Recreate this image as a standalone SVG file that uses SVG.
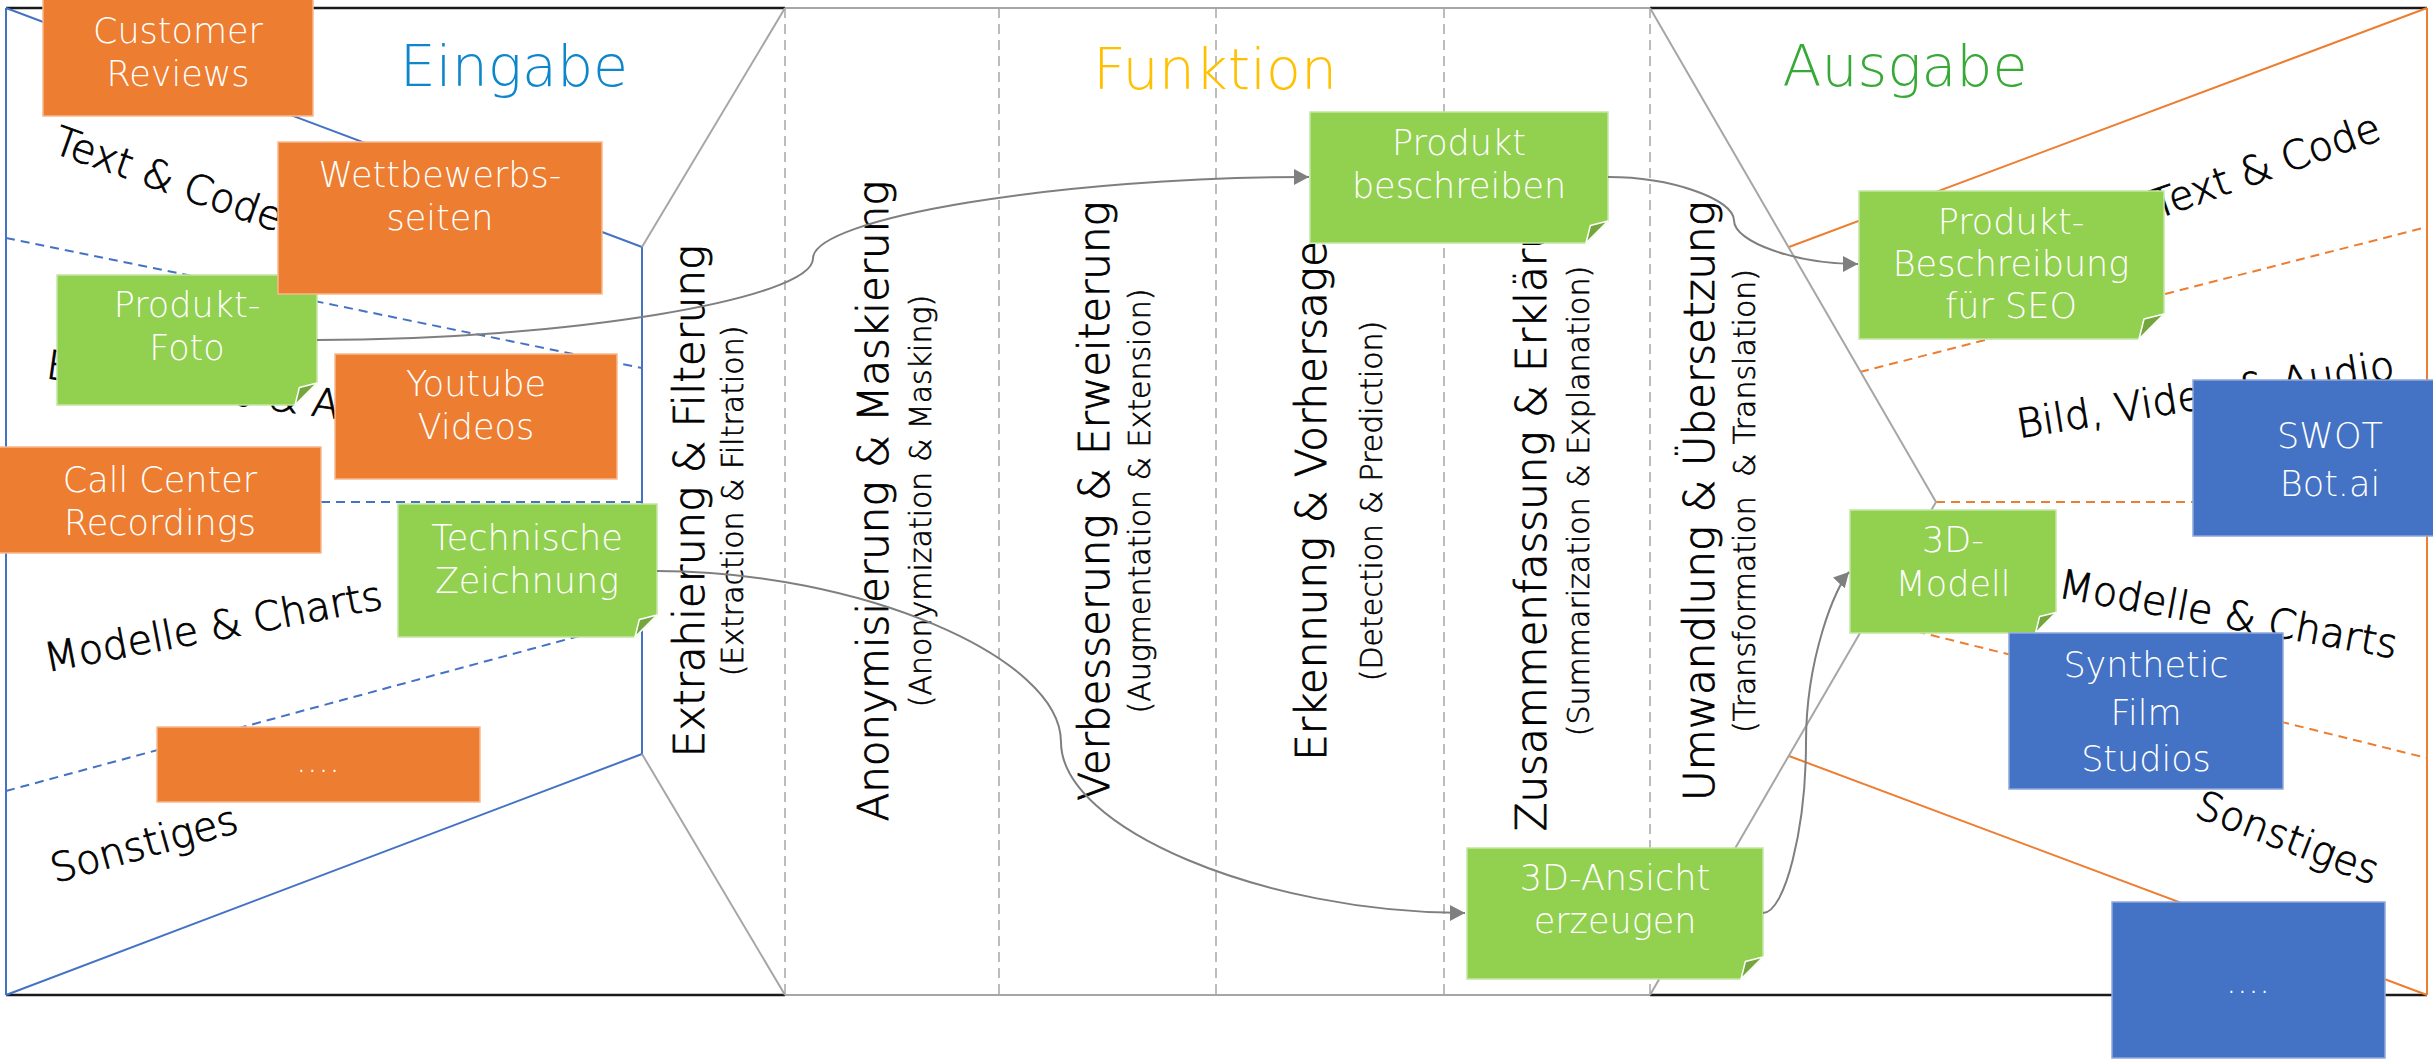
<svg xmlns="http://www.w3.org/2000/svg" width="2433" height="1062" viewBox="0 0 2433 1062">
  <defs>
    <style>
      text { font-family: "DejaVu Sans", "Liberation Sans", sans-serif; font-weight: 300; }
      .lbl { font-size: 40px; fill: #000; stroke: #000; stroke-width: 0.8; }
      .hdr { font-size: 57px; text-anchor: middle; }
      .col { font-size: 42px; fill: #000; stroke: #000; stroke-width: 0.8; text-anchor: middle; }
      .sub { font-size: 30px; fill: #000; stroke: #000; stroke-width: 0.6; text-anchor: middle; }
      .bt { font-size: 35px; fill: #fff; text-anchor: middle; }
      .org { fill: #ED7D31; stroke: #F6B98F; stroke-width: 1.5; }
      .blu { fill: #4472C4; stroke: #8EA9DB; stroke-width: 1.5; }
      .grn { fill: #92D050; stroke: #C4E6A2; stroke-width: 1.5; }
      .fold { fill: #75A63E; stroke: #fff; stroke-width: 1.5; stroke-linejoin: round; }
      .bline { stroke: #4472C4; stroke-width: 2; fill: none; }
      .bdash { stroke: #4472C4; stroke-width: 2; stroke-dasharray: 9 6; fill: none; }
      .oline { stroke: #ED7D31; stroke-width: 2; fill: none; }
      .odash { stroke: #ED7D31; stroke-width: 2; stroke-dasharray: 9 6; fill: none; }
      .gline { stroke: #A6A6A6; stroke-width: 2; fill: none; }
      .gdash { stroke: #A6A6A6; stroke-width: 1.5; stroke-dasharray: 10 6; fill: none; }
      .frame { stroke: #1A1A1A; stroke-width: 2.5; fill: none; }
      .conn { stroke: #7F7F7F; stroke-width: 2; fill: none; marker-end: url(#arrow); }
    </style>
    <marker id="arrow" markerUnits="userSpaceOnUse" markerWidth="18" markerHeight="18" refX="15" refY="8" orient="auto">
      <path d="M0,0 L15,8 L0,16 Z" fill="#7F7F7F"/>
    </marker>
  </defs>

  <rect width="2433" height="1062" fill="#fff"/>

  <!-- frame: top and bottom edges -->
  <g id="frame">
    <path class="frame" d="M6,8 H785 M1650,8 H2427 M6,995 H785 M1650,995 H2427"/>
    <path class="gline" d="M785,8 H1650 M785,995 H1650" stroke-width="2.5"/>
  </g>

  <!-- input funnel (Eingabe) -->
  <g id="input-area">
    <path class="bline" d="M6,8 V995 M6,8 L642,247 V754 L6,995"/>
    <path class="bdash" d="M6,238 L642,368 M6,502 H642 M6,791 L642,619"/>
  </g>

  <!-- output funnel (Ausgabe) -->
  <g id="output-area">
    <path class="oline" d="M2427,8 V995 M2427,8 L1789,247 M1789,756 L2427,995"/>
    <path class="odash" d="M1860,372 L2427,227 M1936,502 H2427 M1858,617 L2427,758"/>
  </g>

  <!-- function area borders and column separators -->
  <g id="function-area">
    <path class="gline" d="M785,8 L642,247 M642,754 L785,995 M1650,8 L1936,502 L1650,995"/>
    <path class="gdash" d="M785,8 V995 M999,8 V995 M1216,8 V995 M1444,8 V995 M1650,8 V995"/>
  </g>

  <!-- section headers -->
  <g id="headers">
    <text class="hdr" x="514" y="86" fill="#0E86CC">Eingabe</text>
    <text class="hdr" x="1215" y="89" fill="#FFC000">Funktion</text>
    <text class="hdr" x="1905" y="86" fill="#36A936">Ausgabe</text>
  </g>

  <!-- category labels, input side -->
  <g id="input-labels">
    <text class="lbl" transform="translate(51,152) rotate(19.5)">Text &amp; Code</text>
    <text class="lbl" transform="translate(45,378) rotate(8)">Bild, Video &amp; Audio</text>
    <text class="lbl" transform="translate(47,672) rotate(-10.7)">Modelle &amp; Charts</text>
    <text class="lbl" transform="translate(55,883) rotate(-15.5)" font-size="42">Sonstiges</text>
  </g>

  <!-- category labels, output side -->
  <g id="output-labels">
    <text class="lbl" transform="translate(2157,219) rotate(-19.5)">Text &amp; Code</text>
    <text class="lbl" transform="translate(2019,438) rotate(-9)">Bild, Video &amp; Audio</text>
    <text class="lbl" transform="translate(2057,597) rotate(10.3)">Modelle &amp; Charts</text>
    <text class="lbl" transform="translate(2193,816) rotate(21)" font-size="42">Sonstiges</text>
  </g>

  <!-- function columns -->
  <g id="col-extraction">
    <text class="col" transform="translate(704,501) rotate(-90)">Extrahierung &amp; Filterung</text>
    <text class="sub" transform="translate(743,501) rotate(-90)">(Extraction &amp; Filtration)</text>
  </g>
  <g id="col-anonymization">
    <text class="col" transform="translate(888,501) rotate(-90)">Anonymisierung &amp; Maskierung</text>
    <text class="sub" transform="translate(931,501) rotate(-90)">(Anonymization &amp; Masking)</text>
  </g>
  <g id="col-augmentation">
    <text class="col" transform="translate(1109,501) rotate(-90)">Verbesserung &amp; Erweiterung</text>
    <text class="sub" transform="translate(1150,501) rotate(-90)">(Augmentation &amp; Extension)</text>
  </g>
  <g id="col-detection">
    <text class="col" transform="translate(1326,501) rotate(-90)">Erkennung &amp; Vorhersage</text>
    <text class="sub" transform="translate(1382,501) rotate(-90)">(Detection &amp; Prediction)</text>
  </g>
  <g id="col-summarization">
    <text class="col" transform="translate(1546,501) rotate(-90)">Zusammenfassung &amp; Erklärung</text>
    <text class="sub" transform="translate(1589,501) rotate(-90)">(Summarization &amp; Explanation)</text>
  </g>
  <g id="col-transformation">
    <text class="col" transform="translate(1714,501) rotate(-90)">Umwandlung &amp; Übersetzung</text>
    <text class="sub" transform="translate(1755,501) rotate(-90)" style="white-space:pre">(Transformation  &amp; Translation)</text>
  </g>

  <!-- input sources -->
  <g id="customer-reviews">
    <rect class="org" x="43" y="-2" width="270" height="118"/>
    <text class="bt" x="178" y="43">Customer</text>
    <text class="bt" x="178" y="86">Reviews</text>
  </g>
  <g id="produkt-foto">
    <path class="grn" d="M57,275 H317 V383 L295,405 H57 Z"/>
    <path class="fold" d="M295,405 L299.4,387.4 L317,383 Z"/>
    <text class="bt" x="187" y="317">Produkt-</text>
    <text class="bt" x="187" y="360">Foto</text>
  </g>
  <g id="wettbewerbsseiten">
    <rect class="org" x="278" y="142" width="324" height="152"/>
    <text class="bt" x="440" y="187">Wettbewerbs-</text>
    <text class="bt" x="440" y="230">seiten</text>
  </g>
  <g id="youtube-videos">
    <rect class="org" x="335" y="354" width="282" height="125"/>
    <text class="bt" x="476" y="396">Youtube</text>
    <text class="bt" x="476" y="439">Videos</text>
  </g>
  <g id="call-center">
    <rect class="org" x="-2" y="447" width="323" height="106"/>
    <text class="bt" x="160" y="492">Call Center</text>
    <text class="bt" x="160" y="535">Recordings</text>
  </g>
  <g id="technische-zeichnung">
    <path class="grn" d="M398,504 H657 V615 L635,637 H398 Z"/>
    <path class="fold" d="M635,637 L639.4,619.4 L657,615 Z"/>
    <text class="bt" x="527" y="550">Technische</text>
    <text class="bt" x="527" y="593">Zeichnung</text>
  </g>
  <g id="input-more">
    <rect class="org" x="157" y="727" width="323" height="75"/>
    <text class="bt" x="318" y="772" font-size="26">....</text>
  </g>

  <!-- functions -->
  <g id="produkt-beschreiben">
    <path class="grn" d="M1310,112 H1608 V221 L1586,243 H1310 Z"/>
    <path class="fold" d="M1586,243 L1590.4,225.4 L1608,221 Z"/>
    <text class="bt" x="1459" y="155">Produkt</text>
    <text class="bt" x="1459" y="198">beschreiben</text>
  </g>
  <g id="ansicht-erzeugen">
    <path class="grn" d="M1467,848 H1763 V957 L1741,979 H1467 Z"/>
    <path class="fold" d="M1741,979 L1745.4,961.4 L1763,957 Z"/>
    <text class="bt" x="1615" y="890">3D-Ansicht</text>
    <text class="bt" x="1615" y="933">erzeugen</text>
  </g>

  <!-- outputs -->
  <g id="seo-beschreibung">
    <path class="grn" d="M1859,191 H2164 V314 L2139,339 H1859 Z"/>
    <path class="fold" d="M2139,339 L2144,319 L2164,314 Z"/>
    <text class="bt" x="2011" y="234">Produkt-</text>
    <text class="bt" x="2011" y="276">Beschreibung</text>
    <text class="bt" x="2011" y="318">für SEO</text>
  </g>
  <g id="modell-3d">
    <path class="grn" d="M1850,510 H2056 V612.5 L2035.5,633 H1850 Z"/>
    <path class="fold" d="M2035.5,633 L2039.6,616.6 L2056,612.5 Z"/>
    <text class="bt" x="1953" y="552">3D-</text>
    <text class="bt" x="1953" y="596">Modell</text>
  </g>
  <g id="swot-bot">
    <rect class="blu" x="2193" y="380" width="277" height="156"/>
    <text class="bt" x="2330" y="448">SWOT</text>
    <text class="bt" x="2330" y="496">Bot.ai</text>
  </g>
  <g id="synthetic-film-studios">
    <rect class="blu" x="2009" y="633" width="274" height="156"/>
    <text class="bt" x="2146" y="677">Synthetic</text>
    <text class="bt" x="2146" y="725">Film</text>
    <text class="bt" x="2146" y="771">Studios</text>
  </g>
  <g id="output-more">
    <rect class="blu" x="2112" y="902" width="273" height="156"/>
    <text class="bt" x="2248" y="993" font-size="26">....</text>
  </g>

  <!-- connectors -->
  <g id="connectors">
    <path class="conn" d="M317,340 C565,340 813,299 813,258.5 C813,218 1061,177 1309,177"/>
    <path class="conn" d="M1608,177 C1671,177 1734,199 1734,220.5 C1734,242 1796,264 1858,264"/>
    <path class="conn" d="M657,571 C859,571 1061,657 1061,742 C1061,828 1263,913 1465,913"/>
    <path class="conn" d="M1763,913 C1785,913 1806,828 1806,742.5 C1806,657 1836,586 1849,572"/>
  </g>
</svg>
